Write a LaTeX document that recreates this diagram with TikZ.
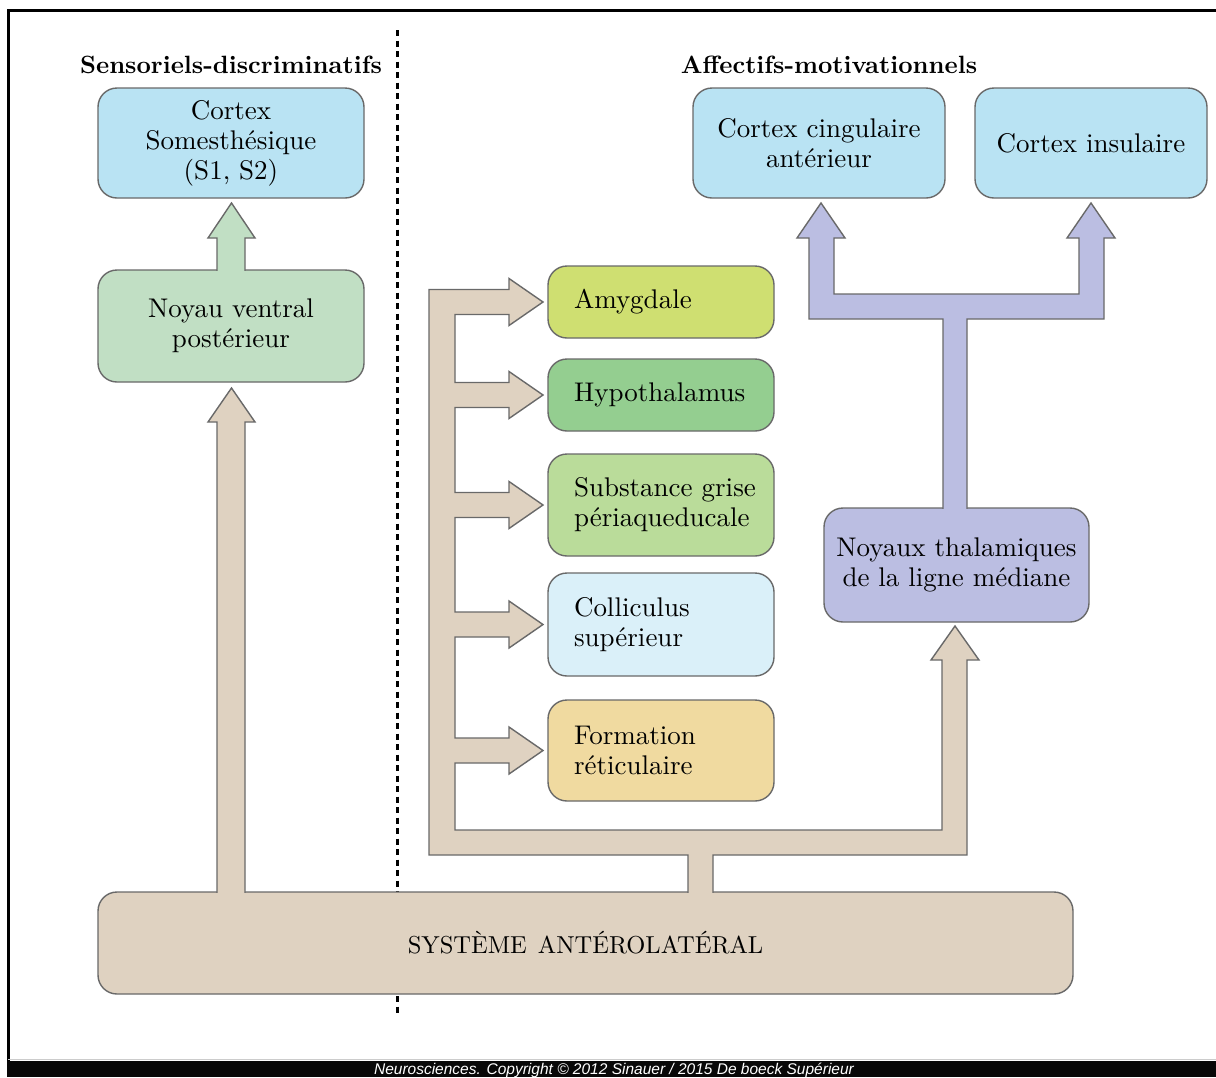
\documentclass[tikz,border=0pt]{standalone}
\usepackage{fontspec}
\setmainfont{lmroman10-regular.otf}[BoldFont=lmroman10-bold.otf, ItalicFont=lmroman10-italic.otf]
\newfontfamily\copyfont{Liberation Sans}
\definecolor{bord}{RGB}{105,105,105}
\definecolor{cblue}{RGB}{185,227,243}
\definecolor{nvpg}{RGB}{193,223,196}
\definecolor{beige}{RGB}{223,210,193}
\definecolor{amyc}{RGB}{207,223,113}
\definecolor{hypc}{RGB}{148,206,144}
\definecolor{subc}{RGB}{186,220,154}
\definecolor{colc}{RGB}{218,240,249}
\definecolor{forc}{RGB}{240,218,160}
\definecolor{lav}{RGB}{187,190,226}
\begin{document}
\begin{tikzpicture}[x=1pt,y=-1pt,
  box/.style={draw=bord, line width=1.4pt, rounded corners=19pt, inner sep=0pt,
    font=\fontsize{27}{30}\selectfont, align=center},
  lbox/.style={box, text width=174pt, align=left},
  head/.style={font=\fontsize{25}{30}\selectfont\bfseries, inner sep=0pt},
  arr/.style={draw=bord, line width=1.4pt, line join=miter}]
\useasboundingbox (0,0) rectangle (1216,1077);
\fill[white] (0,0) rectangle (1216,1077);
% frame
\draw[line width=3pt] (1217,10) -- (8,10) -- (8,1061);
\draw[gray!40, line width=1pt] (8,1059.5) -- (1216,1059.5);
\fill[black!97] (7,1061) rectangle (1216,1077);
\node[font=\copyfont\itshape\fontsize{15.5}{15.5}\selectfont, text=white, inner sep=0pt] (copy) at (614,1070) {Neurosciences. Copyright © 2012 Sinauer / 2015 De boeck Supérieur};
% dotted separator
\draw[line width=3pt, dash pattern=on 6pt off 4.5pt] (397,30) -- (397,1016);
% headings
\node[head] (h1) at (231,65) {Sensoriels-discriminatifs};
\node[head] (h2) at (829,65) {Affectifs-motivationnels};
% boxes
\node[box, fill=cblue, minimum width=266pt, minimum height=110pt] (cs) at (231,143) {Cortex\\Somesthésique\\(S1, S2)};
\node[box, fill=nvpg, minimum width=266pt, minimum height=112pt] (nvp) at (231,326) {Noyau ventral\\postérieur};
\node[box, fill=cblue, minimum width=252pt, minimum height=110pt] (cca) at (819,143) {Cortex cingulaire\\antérieur};
\node[box, fill=cblue, minimum width=232pt, minimum height=110pt] (ci) at (1091,143) {Cortex insulaire};
\node[lbox, fill=amyc, minimum width=226pt, minimum height=72pt] (amy) at (661,302) {Amygdale};
\node[lbox, fill=hypc, minimum width=226pt, minimum height=72pt] (hyp) at (661,395) {Hypothalamus};
\node[lbox, fill=subc, minimum width=226pt, minimum height=102pt] (sub) at (661,505) {\mbox{Substance grise}\\\mbox{périaqueducale}};
\node[lbox, fill=colc, minimum width=226pt, minimum height=103pt] (col) at (661,624.5) {Colliculus\\supérieur};
\node[lbox, fill=forc, minimum width=226pt, minimum height=101pt] (for) at (661,750.5) {Formation\\réticulaire};
\node[box, fill=lav, minimum width=265pt, minimum height=114pt] (nlm) at (956.5,565) {Noyaux thalamiques\\de la ligne médiane};
\node[box, fill=beige, minimum width=975pt, minimum height=102pt, font=\fontsize{24.5}{30}\selectfont] (sa) at (585.5,943) {SYSTÈME\hspace{0.45em}ANTÉROLATÉRAL};
% green arrow NVP -> cortex somesthesique
\draw[arr, fill=nvpg] (217,270.8) -- (217,238) -- (208,238) -- (231.5,203) -- (255,238) -- (245,238) -- (245,270.8);
% beige arrow SA -> NVP
\draw[arr, fill=beige] (217,892.8) -- (217,422) -- (208,422) -- (231.5,388) -- (255,422) -- (245,422) -- (245,892.8);
% beige branched arrow
\draw[arr, fill=beige] (688,892.8) -- (688,855) -- (429,855) -- (429,289.5)
  -- (509,289.5) -- (509,278.5) -- (543,302) -- (509,325.5) -- (509,314.5) -- (455,314.5)
  -- (455,382.5) -- (509,382.5) -- (509,371.5) -- (543,395) -- (509,418.5) -- (509,407.5) -- (455,407.5)
  -- (455,492.5) -- (509,492.5) -- (509,481.5) -- (543,505) -- (509,528.5) -- (509,517.5) -- (455,517.5)
  -- (455,612) -- (509,612) -- (509,601) -- (543,624.5) -- (509,648) -- (509,637) -- (455,637)
  -- (455,738) -- (509,738) -- (509,727) -- (543,750.5) -- (509,774) -- (509,763) -- (455,763)
  -- (455,830) -- (942,830) -- (942,660) -- (931,660) -- (955,626) -- (979,660) -- (967,660)
  -- (967,855) -- (713,855) -- (713,892.8);
% purple branched arrow
\draw[arr, fill=lav] (943,508.8) -- (943,319) -- (809,319) -- (809,238) -- (797,238) -- (821,203)
  -- (845,238) -- (834,238) -- (834,294) -- (1079,294) -- (1079,238) -- (1067,238) -- (1091,203)
  -- (1115,238) -- (1104,238) -- (1104,319) -- (967,319) -- (967,508.8);
\end{tikzpicture}
\end{document}
